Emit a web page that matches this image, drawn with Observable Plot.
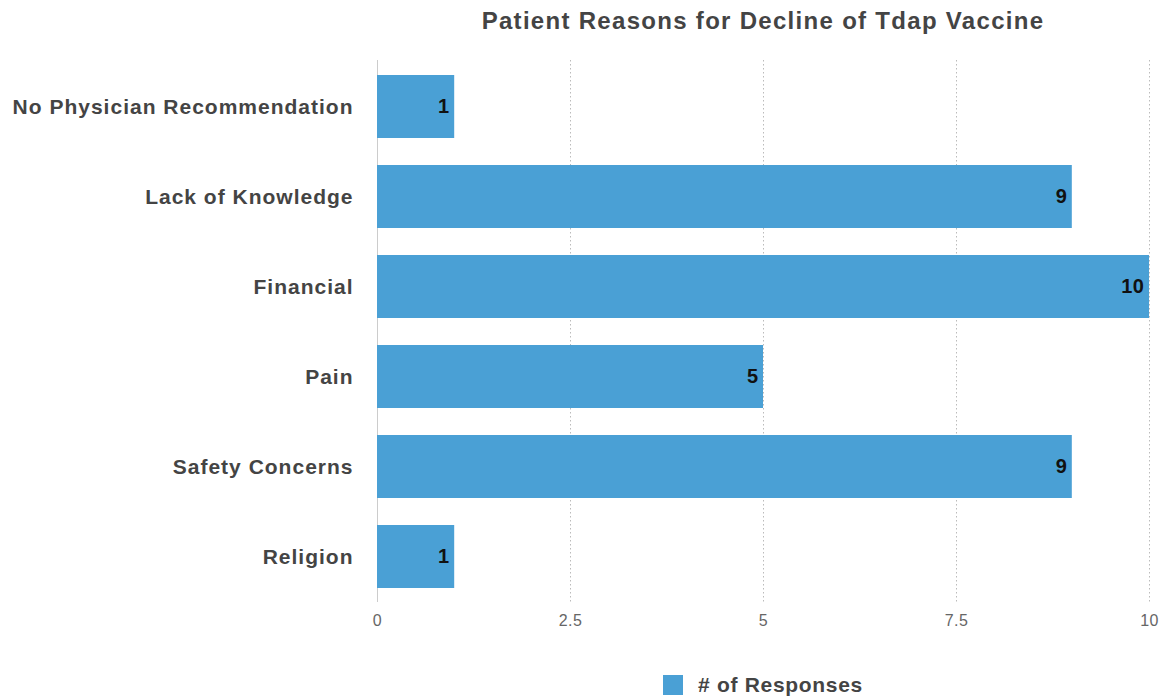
<!DOCTYPE html>
<html>
<head>
<meta charset="utf-8">
<script src="https://cdn.jsdelivr.net/npm/d3@7"></script>
<script src="https://cdn.jsdelivr.net/npm/@observablehq/plot@0.6"></script>
<style>
  body { margin: 0; background: #fff; font-family: "Liberation Sans", Arial, sans-serif; }
  #title { position: absolute; left: 377px; width: 772px; top: 7px; text-align: center; font-weight: bold; font-size: 24px; letter-spacing: 1.3px; color: #444; }
  #chart { position: absolute; left: 0; top: 45px; }
  #legend { position: absolute; left: 377px; width: 772px; top: 673px; display: flex; justify-content: center; align-items: center; font-weight: bold; font-size: 21px; letter-spacing: 0.7px; color: #444; }
  #legend .sw { width: 20px; height: 20px; background: #4aa0d5; margin-right: 15px; }
</style>
</head>
<body>
<div id="title">Patient Reasons for Decline of Tdap Vaccine</div>
<div id="chart"></div>
<div id="legend"><span class="sw"></span><span>#&nbsp;of Responses</span></div>
<script>
const categories = ["No Physician Recommendation", "Lack of Knowledge", "Financial", "Pain", "Safety Concerns", "Religion"];
const responses = [1, 9, 10, 5, 9, 1];
const xTicks = [0, 2.5, 5, 7.5, 10];
const gridTicks = [2.5, 5, 7.5, 10];

const data = categories.map((c, i) => ({reason: c, value: responses[i]}));

const chart = Plot.plot({
  width: 1168,
  height: 600,
  marginLeft: 377,
  marginRight: 19,
  marginTop: 15,
  marginBottom: 43,
  style: { fontFamily: "Liberation Sans, Arial, sans-serif", background: "#fff" },
  x: { domain: [0, 10], ticks: xTicks, tickFormat: d => String(d), label: null },
  y: { domain: categories, paddingInner: 0.3, paddingOuter: 0.15, label: null },
  marks: [
    Plot.ruleX(gridTicks, { stroke: "#bbb", strokeDasharray: "1.5,2.5", strokeWidth: 1 }),
    Plot.ruleX([0], { stroke: "#ccc", strokeWidth: 1 }),
    Plot.barX(data, { x: "value", y: "reason", fill: "#4aa0d5" }),
    Plot.text(data, { x: "value", y: "reason", text: d => String(d.value), textAnchor: "end", dx: -5, fill: "#111", fontWeight: "bold", fontSize: 20 }),
    Plot.axisX({ ticks: xTicks, tickFormat: d => String(d), tickSize: 0, tickPadding: 12, fontSize: 16, fill: "#666", label: null }),
    Plot.axisY({ tickSize: 0, tickPadding: 24, fontSize: 21, fontWeight: "bold", fill: "#444", label: null })
  ]
});
chart.querySelectorAll("g[aria-label='y-axis tick label']").forEach(el => el.setAttribute("letter-spacing", "1"));
chart.querySelectorAll("g[aria-label='x-axis tick label']").forEach(el => { el.setAttribute("letter-spacing", "0.4"); el.style.fontSize = "16px"; });
chart.querySelectorAll("g[aria-label='text']").forEach(el => el.setAttribute("letter-spacing", "0.5"));
document.getElementById("chart").appendChild(chart);
</script>
</body>
</html>
